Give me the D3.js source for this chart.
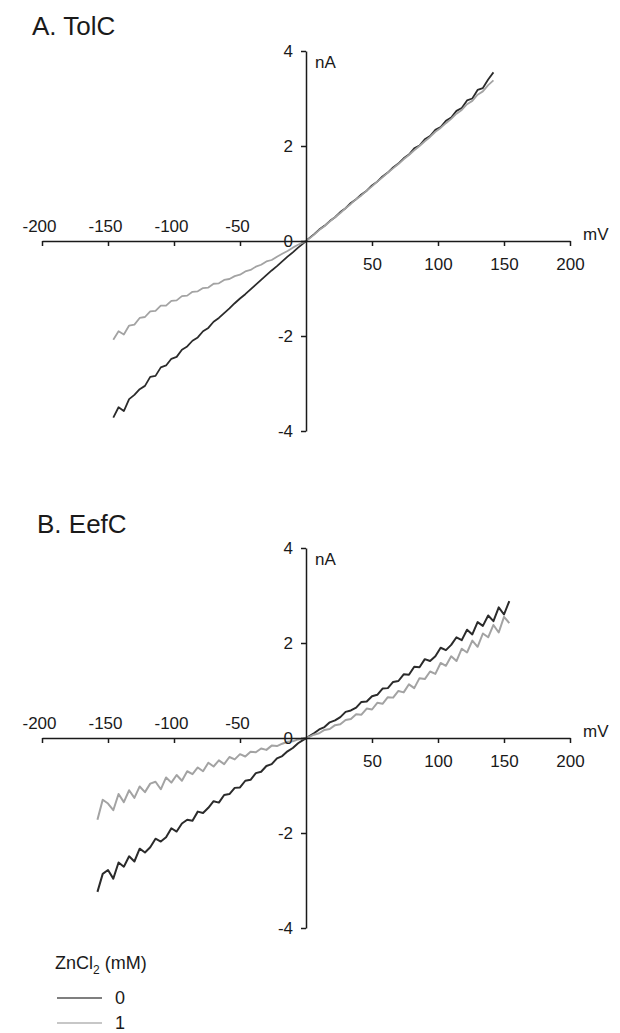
<!DOCTYPE html>
<html>
<head>
<meta charset="utf-8">
<script src="https://cdn.jsdelivr.net/npm/d3@7"></script>
<style>
  body{margin:0;background:#fff;}
  svg{display:block;font-family:'Liberation Sans',Arial,sans-serif;}
</style>
</head>
<body>
<svg id="chart" width="620" height="1033"></svg>
<script>
'use strict';
// voltage ramps (mV) for each recording
var voltsA = d3.range(-146, 143, 4),
    voltsB = d3.range(-158, 155, 4);

// TolC currents (nA)
var tolC0 = [-3.72,-3.50,-3.58,-3.33,-3.24,-3.12,-3.05,-2.86,-2.84,-2.66,
             -2.62,-2.48,-2.44,-2.29,-2.22,-2.10,-2.03,-1.90,-1.83,-1.70,
             -1.62,-1.52,-1.42,-1.31,-1.21,-1.12,-1.02,-0.92,-0.82,-0.72,
             -0.62,-0.53,-0.43,-0.33,-0.24,-0.14,-0.05,
             0.05,0.14,0.24,0.32,0.42,0.50,0.61,0.69,0.80,0.88,
             0.98,1.06,1.17,1.25,1.36,1.44,1.55,1.63,1.74,1.82,
             1.95,2.01,2.14,2.21,2.34,2.40,2.53,2.60,2.74,2.80,
             2.96,3.00,3.18,3.22,3.40,3.55];
var tolC1 = [-2.08,-1.90,-1.97,-1.78,-1.76,-1.62,-1.60,-1.48,-1.47,-1.36,
             -1.36,-1.26,-1.25,-1.16,-1.15,-1.07,-1.06,-0.99,-0.98,-0.90,
             -0.89,-0.82,-0.80,-0.74,-0.71,-0.64,-0.61,-0.54,-0.50,-0.43,
             -0.40,-0.33,-0.27,-0.21,-0.14,-0.08,-0.03,
             0.04,0.13,0.23,0.31,0.41,0.50,0.59,0.69,0.78,0.88,
             0.96,1.06,1.15,1.25,1.34,1.44,1.53,1.62,1.72,1.81,
             1.91,2.00,2.10,2.19,2.30,2.38,2.48,2.57,2.68,2.76,
             2.88,2.95,3.08,3.15,3.28,3.38];

// EefC currents (nA)
var eefC0 = [-3.24,-2.86,-2.78,-2.96,-2.62,-2.71,-2.49,-2.60,-2.33,-2.41,
             -2.30,-2.12,-2.18,-2.09,-1.90,-1.97,-1.80,-1.72,-1.74,-1.55,
             -1.58,-1.47,-1.33,-1.36,-1.20,-1.18,-1.05,-1.04,-0.90,-0.88,
             -0.74,-0.71,-0.59,-0.55,-0.43,-0.38,-0.28,-0.21,-0.11,-0.04,
             0.03,0.10,0.18,0.23,0.33,0.37,0.44,0.55,0.58,0.64,
             0.76,0.77,0.88,0.91,1.04,1.05,1.18,1.20,1.34,1.33,
             1.50,1.49,1.66,1.62,1.72,1.90,1.85,1.96,2.12,2.06,
             2.28,2.18,2.44,2.36,2.58,2.46,2.75,2.60,2.88];
var eefC1 = [-1.72,-1.30,-1.38,-1.52,-1.18,-1.35,-1.10,-1.26,-1.02,-1.14,
             -0.96,-0.92,-1.08,-0.83,-0.94,-0.78,-0.90,-0.70,-0.76,-0.62,
             -0.70,-0.52,-0.60,-0.47,-0.55,-0.40,-0.45,-0.34,-0.39,-0.29,
             -0.30,-0.22,-0.25,-0.16,-0.17,-0.12,-0.08,-0.07,-0.03,-0.01,
             0.02,0.07,0.10,0.17,0.19,0.27,0.29,0.38,0.40,0.50,
             0.49,0.62,0.60,0.74,0.72,0.86,0.85,0.99,0.96,1.13,
             1.05,1.26,1.24,1.40,1.35,1.58,1.52,1.72,1.62,1.88,
             1.80,2.05,1.92,2.20,2.12,2.38,2.22,2.55,2.42];

var xTicks = [-200,-150,-100,-50,50,100,150,200],
    yTicks = [-4,-2,0,2,4],
    concs = ['0','1'],
    colors = ['#2b2b2b','#a3a3a3'],
    legendColors = ['#555555','#b5b5b5'];

var panels = [
  {title:'A. TolC', tx:32, ty:35, volts:voltsA, series:[tolC0,tolC1], y0:431, y1:51, sw:1.8},
  {title:'B. EefC', tx:37, ty:533, volts:voltsB, series:[eefC0,eefC1], y0:928, y1:548, sw:2}
];

var svg = d3.select('#chart');
var x = d3.scaleLinear().domain([-200,200]).range([42,570]);
var plain = function(d){return String(d);};

panels.forEach(function(p){
  var y = d3.scaleLinear().domain([-4,4]).range([p.y0,p.y1]);
  var g = svg.append('g');

  g.append('text')
    .attr('x',p.tx).attr('y',p.ty)
    .style('font-size','26px')
    .style('fill','#1a1a1a')
    .text(p.title);

  // traces
  var line = d3.line().x(function(d){return x(d[0]);}).y(function(d){return y(d[1]);});
  p.series.forEach(function(s,i){
    g.append('path')
      .datum(p.volts.map(function(v,j){return [v,s[j]];}))
      .attr('d',line)
      .attr('fill','none')
      .attr('stroke',colors[i])
      .attr('stroke-width',p.sw)
      .attr('stroke-linejoin','round');
  });

  // x axis
  var xg = g.append('g')
    .attr('transform','translate(0,'+y(0)+')')
    .call(d3.axisBottom(x).tickValues(xTicks).tickFormat(plain).tickSize(5).tickSizeOuter(0));
  xg.select('.domain').attr('stroke','#1a1a1a').attr('stroke-width',1.5);
  xg.selectAll('.tick line').attr('stroke','#1a1a1a').attr('stroke-width',1.5);
  xg.selectAll('.tick text')
    .attr('y',function(d){return d<0?-9:29;})
    .attr('dy',0)
    .attr('dx',function(d){return d<0?-3:0;})
    .style('font-size','17px')
    .style('font-family',"'Liberation Sans',Arial,sans-serif")
    .style('fill','#1a1a1a');

  // y axis
  var yg = g.append('g')
    .attr('transform','translate('+x(0)+',0)')
    .call(d3.axisLeft(y).tickValues(yTicks).tickFormat(plain).tickSize(5).tickSizeOuter(0));
  yg.select('.domain').attr('stroke','#1a1a1a').attr('stroke-width',1.5);
  yg.selectAll('.tick line').attr('stroke','#1a1a1a').attr('stroke-width',1.5);
  yg.selectAll('.tick text')
    .attr('x',-13)
    .style('font-size','17px')
    .style('font-family',"'Liberation Sans',Arial,sans-serif")
    .style('fill','#1a1a1a');

  g.append('text')
    .attr('x',x(0)+9).attr('y',y(4)+17)
    .style('font-size','17px').style('fill','#1a1a1a')
    .text('nA');
  g.append('text')
    .attr('x',x(200)+13).attr('y',y(0)-1)
    .style('font-size','17px').style('fill','#1a1a1a')
    .text('mV');
});

// legend
var lg = svg.append('g').attr('transform','translate(55,969)');
var lt = lg.append('text').style('font-size','18px').style('fill','#1a1a1a');
lt.append('tspan').text('ZnCl');
lt.append('tspan').text('2').attr('dy',5).style('font-size','12px');
lt.append('tspan').text(' (mM)').attr('dy',-5);

lg.selectAll('g.item')
  .data(concs)
  .enter()
  .append('g')
  .attr('class','item')
  .attr('transform',function(d,i){return 'translate(0,'+(29+i*25)+')';})
  .each(function(d,i){
    d3.select(this).append('line')
      .attr('x1',2).attr('x2',47)
      .attr('stroke',legendColors[i]).attr('stroke-width',1.3);
    d3.select(this).append('text')
      .attr('x',60).attr('y',6)
      .style('font-size','18px').style('fill','#1a1a1a')
      .text(d);
  });
</script>
</body>
</html>
